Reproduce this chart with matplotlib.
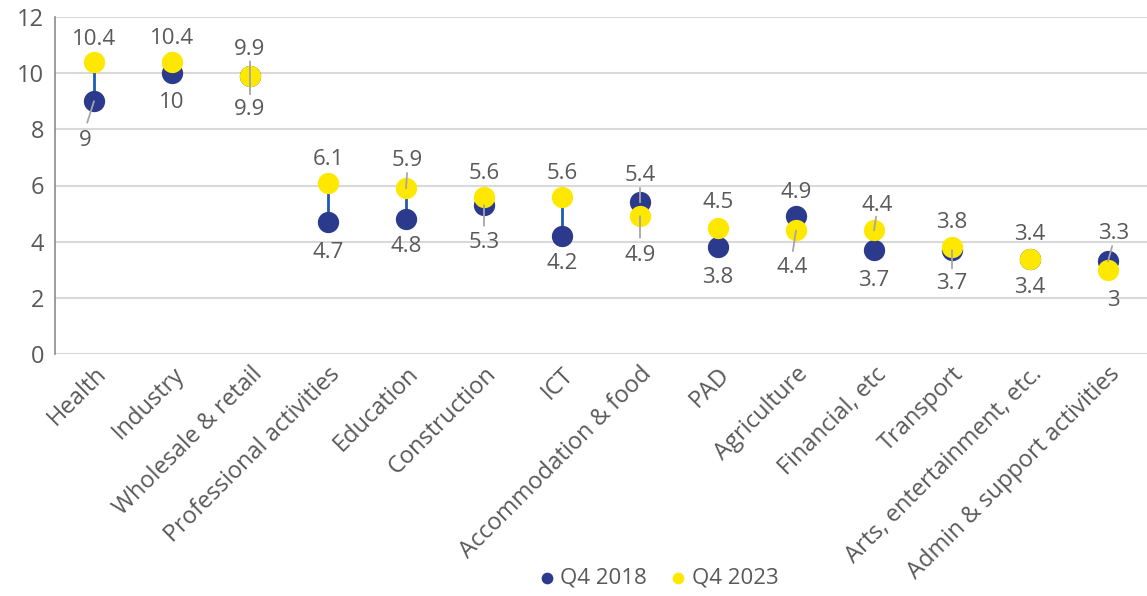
import matplotlib
matplotlib.use("Agg")
import matplotlib.pyplot as plt

categories = ["Health", "Industry", "Wholesale & retail", "Professional activities",
              "Education", "Construction", "ICT", "Accommodation & food", "PAD",
              "Agriculture", "Financial, etc", "Transport", "Arts, entertainment, etc.",
              "Admin & support activities"]
q4_2018 = [9, 10, 9.9, 4.7, 4.8, 5.3, 4.2, 5.4, 3.8, 4.9, 3.7, 3.7, 3.4, 3.3]
q4_2023 = [10.4, 10.4, 9.9, 6.1, 5.9, 5.6, 5.6, 4.9, 4.5, 4.4, 4.4, 3.8, 3.4, 3.0]
yticks = [0, 2, 4, 6, 8, 10, 12]

NAVY = "#2b3a8c"
YELLOW = "#ffe800"
TXT = "#595959"
FONT = "Open Sans"
FS = 16
FS_TICK = 17

plt.rcParams['font.family'] = [FONT, 'DejaVu Sans']

fig = plt.figure(figsize=(11.47, 5.96), dpi=100)
ax = fig.add_axes([55/1147, 1-354/596, 1-55/1147, (354-17)/596])

x = list(range(len(categories)))
ax.vlines(x, q4_2018, q4_2023, color="#1f5cb0", lw=2, zorder=2)
ax.scatter(x, q4_2018, s=235, color=NAVY, zorder=3, label="Q4 2018", linewidths=0)
ax.scatter(x, q4_2023, s=235, color=YELLOW, zorder=4, label="Q4 2023", linewidths=0)

ax.set_xlim(-0.5, len(categories) - 0.5)
ax.set_ylim(0, 12)
ax.set_yticks(yticks)
ax.set_yticklabels([str(v) for v in yticks], fontsize=FS_TICK, color=TXT)
ax.yaxis.grid(True, color="#d9d9d9", lw=1.5)
ax.set_axisbelow(True)
ax.tick_params(axis='y', length=0, pad=8)
ax.tick_params(axis='x', length=0, pad=6)
ax.set_xticks(x)
ax.set_xticklabels(categories, rotation=45, ha='right', rotation_mode='anchor',
                   fontsize=FS_TICK, color=TXT)
for s in ["top", "right", "bottom"]:
    ax.spines[s].set_visible(False)
ax.spines["left"].set_color("#8c8c8c")
ax.spines["left"].set_linewidth(1.2)

def fmt(v):
    return ("%g" % v)

# label offsets (points) relative to each dot
offs18 = {0: (-6.5, -28), 1: (0, -21), 2: (0, -24), 3: (0, -22), 4: (0, -20), 5: (0, -27),
          6: (0, -20), 7: (0, 19), 8: (0, -22), 9: (0, 17), 10: (0, -22), 11: (0, -24),
          12: (0, -21), 13: (4, 20)}
offs23 = {0: (0, 16.5), 1: (0, 17), 2: (0, 19), 3: (0, 17), 4: (1, 20), 5: (0, 17),
          6: (0, 17), 7: (0, -28), 8: (0, 18), 9: (-3, -27), 10: (2, 18),
          11: (0, 18), 12: (0, 17), 13: (4, -22)}
leader18 = {0, 5, 7, 11, 13, 2}
leader23 = {4, 7, 9, 10, 2}

for i in x:
    for vals, offs, leaders in ((q4_2018, offs18, leader18), (q4_2023, offs23, leader23)):
        dx, dy = offs[i]
        ax.annotate(fmt(vals[i]), (i, vals[i]), xytext=(dx, dy), textcoords='offset points',
                    ha='center', va='center', fontsize=FS, color=TXT, zorder=6)
        if i in leaders:
            sx = dx * 0.75
            sy = dy * 0.55
            ax.annotate("", (i, vals[i]), xytext=(sx, sy), textcoords='offset points',
                        arrowprops=dict(arrowstyle='-', color="#a6a6a6", lw=1.3,
                                        shrinkA=0, shrinkB=0), zorder=5)

leg = fig.legend(loc='center', bbox_to_anchor=(657/1147, 1-578/596), ncol=2, frameon=False,
                 fontsize=FS, handletextpad=0.1, columnspacing=0.9, markerscale=0.55,
                 handlelength=1.0)
for t in leg.get_texts():
    t.set_color(TXT)

fig.savefig("out.png", dpi=100)
